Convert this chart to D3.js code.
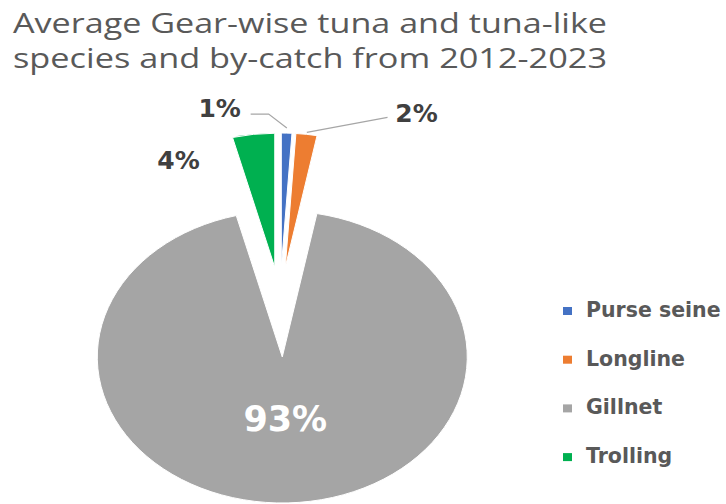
<!DOCTYPE html>
<html>
<head>
<meta charset="utf-8">
<script src="https://cdn.jsdelivr.net/npm/d3@7"></script>
<style>
  html, body { margin: 0; padding: 0; background: #ffffff; }
  svg { display: block; }
</style>
</head>
<body>
<svg id="chart" width="726" height="504"></svg>
<script>
// ---- data ----
const gears  = ["Purse seine", "Longline", "Gillnet", "Trolling"];
const shares = [1, 2, 93, 4];              // average share of catch, %
const colors = ["#4472C4", "#ED7D31", "#A5A5A5", "#00B050"];
const titleLines = [
  "Average Gear-wise tuna and tuna-like",
  "species and by-catch from 2012-2023"
];

// ---- layout ----
const W = 726, H = 504;
const cx = 280, cy = 300;      // pie centre before explosion
const sx = 1.267;              // horizontal stretch of the pie
const explode = [33, 33, 57, 33];
const radius  = [134, 134, 146, 134];
// label offsets from each slice's outer mid-point (inside label for the big slice)
const labelOffset = [[-67, -16], [110, -12], [3, 74], [-75, 35]];
const labelInside = [false, false, true, false];

const svg = d3.select("#chart");
svg.append("rect").attr("width", W).attr("height", H).attr("fill", "#fff");

// ---- title ----
const title = svg.append("g").attr("font-family", "'Open Sans', sans-serif")
  .attr("font-size", 27).attr("fill", "#595959");
title.selectAll("text").data(titleLines).join("text")
  .attr("x", 13)
  .attr("y", (d, i) => 33 + i * 35)
  .attr("textLength", 594)
  .attr("lengthAdjust", "spacingAndGlyphs")
  .text(d => d);

// ---- pie ----
const arcs = d3.pie().sort(null).value(d => d)(shares);
const mid = a => (a.startAngle + a.endAngle) / 2;

const pieG = svg.append("g")
  .attr("transform", `translate(${cx},${cy}) scale(${sx},1)`);

pieG.selectAll("path").data(arcs).join("path")
  .attr("transform", (a, i) =>
    `translate(${explode[i] * Math.sin(mid(a))},${-explode[i] * Math.cos(mid(a))})`)
  .attr("d", (a, i) => d3.arc().innerRadius(0).outerRadius(radius[i])(a))
  .attr("fill", (a, i) => colors[i])
  .attr("stroke", "#ffffff")
  .attr("stroke-width", 1)
  .attr("vector-effect", "non-scaling-stroke");

// page coordinates of a slice's apex and of a point at radius r on its bisector
function apex(a, i) {
  const m = mid(a);
  return [cx + sx * explode[i] * Math.sin(m), cy - explode[i] * Math.cos(m)];
}
function onBisector(a, i, r) {
  const m = mid(a), p = apex(a, i);
  return [p[0] + sx * r * Math.sin(m), p[1] - r * Math.cos(m)];
}

// ---- data labels ----
const labelPos = arcs.map((a, i) => {
  const base = labelInside[i] ? apex(a, i) : onBisector(a, i, radius[i]);
  return [base[0] + labelOffset[i][0], base[1] + labelOffset[i][1]];
});

// leader lines for the two thinnest slices
const line = d3.line();
const leaders = svg.append("g").attr("fill", "none")
  .attr("stroke", "#a6a6a6").attr("stroke-width", 1.2);
{
  // Purse seine: label at left, elbow then down to the slice
  const end = onBisector(arcs[0], 0, radius[0] + 5);
  const lp = labelPos[0];
  leaders.append("path").attr("d", line([
    [lp[0] + 31, lp[1] - 3], [lp[0] + 49, lp[1] - 3], end
  ]));
  // Longline: label at right, straight to the slice
  const end2 = onBisector(arcs[1], 1, radius[1] + 2);
  const lp2 = labelPos[1];
  leaders.append("path").attr("d", line([
    [lp2[0] - 29, lp2[1] - 5], end2
  ]));
}

svg.append("g").attr("font-family", "'DejaVu Sans', sans-serif")
  .attr("font-weight", "bold").attr("text-anchor", "middle")
  .selectAll("text").data(arcs).join("text")
  .attr("x", (a, i) => labelPos[i][0])
  .attr("y", (a, i) => labelPos[i][1])
  .attr("font-size", (a, i) => labelInside[i] ? 35 : 25)
  .attr("fill", (a, i) => labelInside[i] ? "#ffffff" : "#404040")
  .text(a => `${a.data}%`);

// ---- legend ----
const legend = svg.append("g").attr("transform", "translate(563,311)");
const item = legend.selectAll("g").data(gears).join("g")
  .attr("transform", (d, i) => `translate(0,${i * 48.7})`);
item.append("rect")
  .attr("x", 0).attr("y", -4).attr("width", 9).attr("height", 8)
  .attr("fill", (d, i) => colors[i]);
item.append("text")
  .attr("x", 23).attr("y", 6)
  .attr("font-family", "'DejaVu Sans', sans-serif")
  .attr("font-weight", "bold").attr("font-size", 20.5)
  .attr("fill", "#595959")
  .text(d => d);
</script>
</body>
</html>
